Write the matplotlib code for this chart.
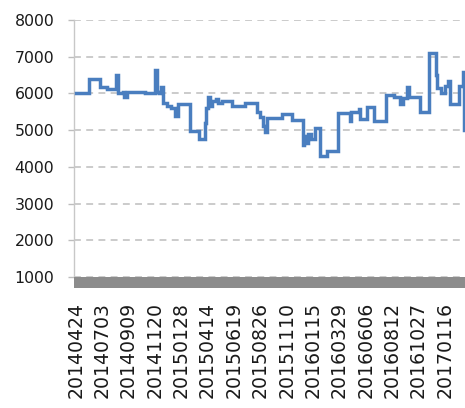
import matplotlib
matplotlib.use("Agg")
import matplotlib.pyplot as plt
from matplotlib.patches import Rectangle

# Trading-day index where each price level starts, and the level itself
change_day = [0, 24, 42, 54, 70, 73, 82, 85, 89, 120, 138, 141, 145, 148,
              153, 160, 167, 173, 178, 199, 215, 225, 228, 230, 234, 237,
              244, 249, 255, 272, 295, 316, 321, 326, 330, 333, 359, 377,
              396, 399, 403, 406, 410, 417, 426, 438, 457, 478, 481, 494,
              495, 508, 520, 542, 555, 565, 570, 577, 581, 600, 617, 628,
              631, 638, 644, 649, 652, 668, 675, 678, 682]
price = [6000, 6380, 6180, 6120, 6500, 6000, 6050, 5900, 6050, 6000, 6650,
         6050, 6000, 6170, 5750, 5650, 5600, 5380, 5700, 4980, 4750, 5200,
         5600, 5900, 5650, 5800, 5850, 5750, 5800, 5650, 5750, 5500, 5350,
         5100, 4950, 5330, 5440, 5270, 4600, 4850, 4650, 4900, 4750, 5050,
         4300, 4430, 5480, 5250, 5500, 5580, 5300, 5630, 5250, 5950, 5900,
         5700, 5880, 6180, 5900, 5500, 7100, 6500, 6150, 6000, 6200, 6330,
         5700, 6200, 6580, 5000, 5000]

tick_day = [0, 46, 92, 138, 184, 230, 276, 322, 368, 414, 460, 506, 552, 598, 644]
tick_label = ["20140424", "20140703", "20140909", "20141120", "20150128",
              "20150414", "20150619", "20150826", "20151110", "20160115",
              "20160329", "20160606", "20160812", "20161027", "20170116"]

y_ticks = [1000, 2000, 3000, 4000, 5000, 6000, 7000, 8000]

W, H = 465, 408
fig = plt.figure(figsize=(W / 100, H / 100), dpi=100)
ax = fig.add_axes([74 / W, 1 - 277 / H, 1 - 74 / W, (277 - 20) / H])

ax.step(change_day, price, where="post", color="#4a7ebf", lw=2.5,
        solid_joinstyle="miter", zorder=3)

ax.set_xlim(-3, 679)
ax.set_ylim(1000, 8000)
ax.set_yticks(y_ticks)
ax.set_yticklabels([str(v) for v in y_ticks], fontsize=11.3,
                   family="DejaVu Sans", color="#1a1a1a")
ax.set_xticks(tick_day)
ax.set_xticklabels(tick_label, rotation=90, fontsize=13.6,
                   family="DejaVu Sans", color="#1a1a1a")

ax.grid(axis="y", color="#bdbdbd", lw=1.1, linestyle=(0, (4.5, 3.5)))
ax.set_axisbelow(True)

for s in ["top", "right", "bottom"]:
    ax.spines[s].set_visible(False)
ax.spines["left"].set_color("#c8c8c8")
ax.spines["left"].set_linewidth(1.0)

ax.tick_params(axis="y", length=4.3, width=1, color="#bdbdbd", pad=10)
ax.tick_params(axis="x", length=0, pad=18)

# thick grey base band under the plot area
ax.add_patch(Rectangle((0, -0.042), 1.0, 0.042, transform=ax.transAxes,
                       facecolor="#8c8c8c", edgecolor="none", clip_on=False,
                       zorder=4))

fig.savefig("out.png", dpi=100, facecolor="white")
